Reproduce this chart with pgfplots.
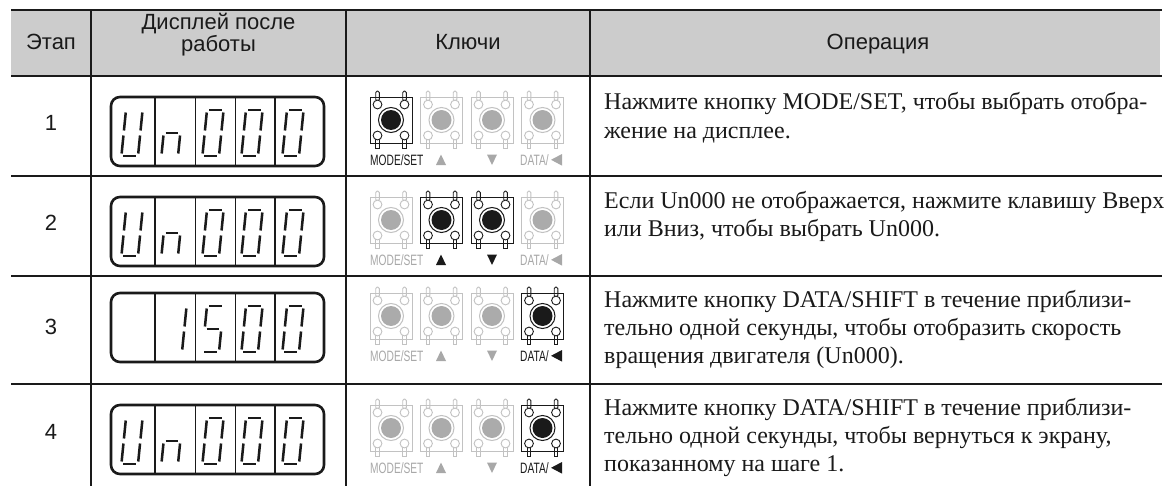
\documentclass[border=0pt]{standalone}
\usepackage{fontspec}
\setmainfont{Liberation Serif}
\newfontfamily\arial{Liberation Sans}
\usepackage{graphicx}
\usepackage{pgfplots}
\pgfplotsset{compat=1.18}
\definecolor{hdr}{HTML}{CCCCCC}
\definecolor{offline}{HTML}{C2C2C2}
\definecolor{offfill}{HTML}{ABABAB}
\definecolor{offtext}{HTML}{A8A8A8}
\definecolor{ink}{HTML}{1A1A1A}
\newcommand\lblfont{\arial\fontsize{15}{15}\selectfont}
\newcommand\hdrfont{\arial\fontsize{22}{22}\selectfont}
\newcommand\txtfont{\fontsize{24}{28}\selectfont}
% seven-segment
\newcommand\sg[6]{\draw[ink,line width=2.5pt] (axis cs:{#1+(#3)+0.1*(23-(#4))},{#2+(#4)}) -- (axis cs:{#1+(#5)+0.1*(23-(#6))},{#2+(#6)});}
\newcommand\sA[2]{\sg{#1}{#2}{-6.3}{0}{6.3}{0}}
\newcommand\sB[2]{\sg{#1}{#2}{8.3}{2.5}{8.3}{20.5}}
\newcommand\sC[2]{\sg{#1}{#2}{8.3}{25.5}{8.3}{43.5}}
\newcommand\sD[2]{\sg{#1}{#2}{-6.3}{46}{6.3}{46}}
\newcommand\sE[2]{\sg{#1}{#2}{-8.3}{25.5}{-8.3}{43.5}}
\newcommand\sF[2]{\sg{#1}{#2}{-8.3}{2.5}{-8.3}{20.5}}
\newcommand\sG[2]{\sg{#1}{#2}{-6.3}{23}{6.3}{23}}
\newcommand\dU[2]{\sB{#1}{#2}\sC{#1}{#2}\sD{#1}{#2}\sE{#1}{#2}\sF{#1}{#2}}
\newcommand\dN[2]{\sC{#1}{#2}\sE{#1}{#2}\sG{#1}{#2}}
\newcommand\dO[2]{\sA{#1}{#2}\sB{#1}{#2}\sC{#1}{#2}\sD{#1}{#2}\sE{#1}{#2}\sF{#1}{#2}}
\newcommand\dFive[2]{\sA{#1}{#2}\sF{#1}{#2}\sG{#1}{#2}\sC{#1}{#2}\sD{#1}{#2}}
\newcommand\dOne[2]{\sB{#1}{#2}\sC{#1}{#2}}
\newcommand\disp[1]{%
 \draw[ink,line width=1.5pt] (axis cs:155,{#1+21}) -- (axis cs:155,{#1+90});
 \draw[ink,line width=1.5pt] (axis cs:195.5,{#1+21}) -- (axis cs:195.5,{#1+90});
 \draw[ink,line width=1.5pt] (axis cs:235.5,{#1+21}) -- (axis cs:235.5,{#1+90});
 \draw[ink,line width=1.5pt] (axis cs:275,{#1+21}) -- (axis cs:275,{#1+90});
 \draw[ink,line width=2.6pt,rounded corners=9pt] (axis cs:111,{#1+21}) rectangle (axis cs:324,{#1+90});}
% button: cx cy line fill
\newcommand\btn[4]{%
 \draw[#3,line width=0.9pt,fill=white,rounded corners=1.5pt] (axis cs:{#1-15.3},{#2-29}) rectangle (axis cs:{#1-11.7},{#2-19});
 \draw[#3,line width=0.9pt,fill=white,rounded corners=1.5pt] (axis cs:{#1+11.7},{#2-29}) rectangle (axis cs:{#1+15.3},{#2-19});
 \draw[#3,line width=0.9pt,fill=white] (axis cs:{#1-15.3},{#2+19}) rectangle (axis cs:{#1-11.7},{#2+28});
 \draw[#3,line width=0.9pt,fill=white] (axis cs:{#1+11.7},{#2+19}) rectangle (axis cs:{#1+15.3},{#2+28});
 \draw[#3,line width=1pt] (axis cs:{#1-21},{#2-23}) rectangle (axis cs:{#1+21},{#2+23});
 \draw[#3,line width=0.9pt,fill=white] (axis cs:{#1-13.5},{#2-15.5}) circle[radius=4.4pt];
 \draw[#3,line width=0.9pt,fill=white] (axis cs:{#1+13.5},{#2-15.5}) circle[radius=4.4pt];
 \draw[#3,line width=0.9pt,fill=white] (axis cs:{#1-13.5},{#2+15.5}) circle[radius=4.4pt];
 \draw[#3,line width=0.9pt,fill=white] (axis cs:{#1+13.5},{#2+15.5}) circle[radius=4.4pt];
 \draw[#3,line width=1pt] (axis cs:#1,#2) circle[radius=12.5pt];
 \fill[#4] (axis cs:#1,#2) circle[radius=10pt];}
% labels: baseline, colours
\newcommand\labs[5]{%
 \node[anchor=base west,inner sep=0pt,text=#2,font=\lblfont] at (axis cs:370,#1) {\scalebox{0.68}[1]{MODE/SET}};
 \fill[#3] (axis cs:436,#1) -- (axis cs:446,#1) -- (axis cs:441,{#1-10.5}) -- cycle;
 \fill[#4] (axis cs:487,{#1-10.5}) -- (axis cs:497,{#1-10.5}) -- (axis cs:492,#1) -- cycle;
 \node[anchor=base west,inner sep=0pt,text=#5,font=\lblfont] at (axis cs:520,#1) {\scalebox{0.68}[1]{DATA/}};
 \fill[#5] (axis cs:551,{#1-5.2}) -- (axis cs:562,{#1-11}) -- (axis cs:562,{#1+0.6}) -- cycle;}
\newcommand\tl[3]{\node[anchor=base west,inner sep=0pt,font=\txtfont,text=ink] at (axis cs:#1,#2) {#3};}
\begin{document}
\begin{tikzpicture}
\begin{axis}[width=1170pt,height=486pt,scale only axis,
  xmin=0,xmax=1170,ymin=0,ymax=486,y dir=reverse,hide axis,clip=false]
\fill[white] (axis cs:0,0) rectangle (axis cs:1170,486);
\fill[hdr] (axis cs:11,10) rectangle (axis cs:1160,76);
% grid
\addplot[ink,line width=1.7pt] coordinates {(91,10) (91,486)};
\addplot[ink,line width=1.7pt] coordinates {(346,10) (346,486)};
\addplot[ink,line width=1.7pt] coordinates {(590,10) (590,486)};
\addplot[ink,line width=2.4pt] coordinates {(11,10) (1162,10)};
\addplot[ink,line width=2.4pt] coordinates {(11,76) (1162,76)};
\addplot[ink,line width=2.4pt] coordinates {(11,176) (1162,176)};
\addplot[ink,line width=2.4pt] coordinates {(11,276) (1162,276)};
\addplot[ink,line width=2.4pt] coordinates {(11,384) (1162,384)};
% header
\node[anchor=base,inner sep=0pt,font=\hdrfont,text=ink] at (axis cs:51,49) {Этап};
\node[anchor=base,inner sep=0pt,font=\hdrfont,text=ink] at (axis cs:218.5,30) {Дисплей после};
\node[anchor=base,inner sep=0pt,font=\hdrfont,text=ink] at (axis cs:218.5,52) {работы};
\node[anchor=base,inner sep=0pt,font=\hdrfont,text=ink] at (axis cs:468,49) {Ключи};
\node[anchor=base,inner sep=0pt,font=\hdrfont,text=ink] at (axis cs:878,49) {Операция};
% step numbers
\node[anchor=base,inner sep=0pt,font=\hdrfont,text=ink] at (axis cs:51,130) {1};
\node[anchor=base,inner sep=0pt,font=\hdrfont,text=ink] at (axis cs:51,230) {2};
\node[anchor=base,inner sep=0pt,font=\hdrfont,text=ink] at (axis cs:51,334) {3};
\node[anchor=base,inner sep=0pt,font=\hdrfont,text=ink] at (axis cs:51,439) {4};
% displays
\disp{76}\dU{132}{110}\dN{172}{110}\dO{213}{110}\dO{252}{110}\dO{293}{110}
\disp{176}\dU{132}{210}\dN{172}{210}\dO{213}{210}\dO{252}{210}\dO{293}{210}
\disp{272}\dOne{176}{306}\dFive{213}{306}\dO{252}{306}\dO{293}{306}
\disp{384}\dU{132}{418}\dN{172}{418}\dO{213}{418}\dO{252}{418}\dO{293}{418}
% keys
\btn{391}{120}{ink}{ink}\btn{441.5}{120}{offline}{offfill}\btn{492}{120}{offline}{offfill}\btn{542.5}{120}{offline}{offfill}
\labs{165}{ink}{offtext}{offtext}{offtext}
\btn{391}{220}{offline}{offfill}\btn{441.5}{220}{ink}{ink}\btn{492}{220}{ink}{ink}\btn{542.5}{220}{offline}{offfill}
\labs{265}{offtext}{ink}{ink}{offtext}
\btn{391}{316}{offline}{offfill}\btn{441.5}{316}{offline}{offfill}\btn{492}{316}{offline}{offfill}\btn{542.5}{316}{ink}{ink}
\labs{361}{offtext}{offtext}{offtext}{ink}
\btn{391}{428}{offline}{offfill}\btn{441.5}{428}{offline}{offfill}\btn{492}{428}{offline}{offfill}\btn{542.5}{428}{ink}{ink}
\labs{473}{offtext}{offtext}{offtext}{ink}
% operation text
\tl{604}{110}{Нажмите кнопку MODE/SET, чтобы выбрать отобра-}
\tl{604}{138}{жение на дисплее.}
\tl{604}{208}{Если Un000 не отображается, нажмите клавишу Вверх}
\tl{604}{236}{или Вниз, чтобы выбрать Un000.}
\tl{604}{307}{Нажмите кнопку DATA/SHIFT в течение приблизи-}
\tl{604}{335}{тельно одной секунды, чтобы отобразить скорость}
\tl{604}{363}{вращения двигателя (Un000).}
\tl{604}{415}{Нажмите кнопку DATA/SHIFT в течение приблизи-}
\tl{604}{443}{тельно одной секунды, чтобы вернуться к экрану,}
\tl{604}{471}{показанному на шаге 1.}
\end{axis}
\end{tikzpicture}
\end{document}
